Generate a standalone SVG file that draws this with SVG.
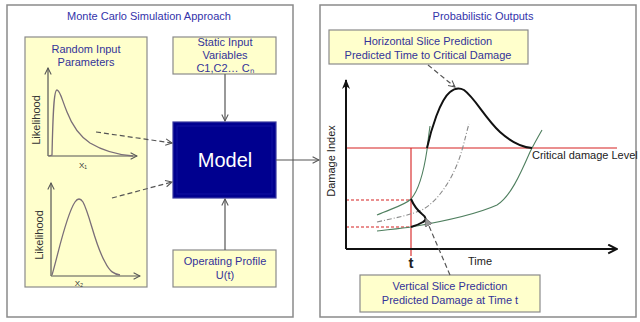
<svg xmlns="http://www.w3.org/2000/svg" width="640" height="322" viewBox="0 0 640 322">
<style>
text{font-family:"Liberation Sans",Arial,sans-serif;}
.panel{fill:#fff;stroke:#8a8a8a;stroke-width:1.5;}
.ybox{fill:#ffffcc;stroke:#8a8a8a;stroke-width:1.2;}
.bt{font-size:11px;fill:#333399;text-anchor:middle;}
.ax{fill:none;stroke:#555;stroke-width:1.2;}
.pdf{fill:none;stroke:#7a6e78;stroke-width:1.3;}
.lbl{font-size:11px;fill:#333;text-anchor:middle;}
.dash{fill:none;stroke:#555;stroke-width:1.2;stroke-dasharray:5,3;}
.conn{fill:none;stroke:#555;stroke-width:1.2;}
.grn{fill:none;stroke:#4f7f5f;stroke-width:1.1;}
.red{fill:none;stroke:#d62020;stroke-width:1.1;}
.redd{fill:none;stroke:#d62020;stroke-width:1.1;stroke-dasharray:3,2;}
.blk{fill:none;stroke:#111;stroke-width:2;}
</style>
<defs>
<marker id="open" viewBox="0 0 10 10" refX="9" refY="5" markerWidth="8" markerHeight="8" orient="auto" markerUnits="userSpaceOnUse">
<path d="M1,1 L9,5 L1,9" fill="none" stroke="#555" stroke-width="1.3"/>
</marker>
<marker id="openB" viewBox="0 0 10 10" refX="9" refY="5" markerWidth="11" markerHeight="11" orient="auto" markerUnits="userSpaceOnUse">
<path d="M1,1 L9,5 L1,9" fill="none" stroke="#111" stroke-width="1.8"/>
</marker>
<marker id="fillB" viewBox="0 0 10 10" refX="9" refY="5" markerWidth="10" markerHeight="10" orient="auto" markerUnits="userSpaceOnUse">
<path d="M0,1 L10,5 L0,9 L3,5 Z" fill="#111"/>
</marker>
<marker id="triG" viewBox="0 0 10 10" refX="9" refY="5" markerWidth="8" markerHeight="8" orient="auto" markerUnits="userSpaceOnUse">
<path d="M0,0 L10,5 L0,10 Z" fill="#999" stroke="#666" stroke-width="0.8"/>
</marker>
</defs>

<g id="left-panel">
<rect class="panel" x="7" y="5" width="286" height="312"/>
<text x="149" y="20" font-size="11" fill="#3333aa" text-anchor="middle">Monte Carlo Simulation Approach</text>
</g>

<g id="random-inputs">
<rect class="ybox" x="25" y="37" width="122" height="250"/>
<text class="bt" x="86" y="53">Random Input</text>
<text class="bt" x="86" y="66">Parameters</text>
<line class="ax" x1="48" y1="156" x2="48" y2="68" marker-end="url(#open)"/>
<line class="ax" x1="48" y1="156" x2="137" y2="156" marker-end="url(#open)"/>
<path class="pdf" d="M49,156 L52,155 C53,110 54,90 57,90 C60,90 62,100 67,112 C72,125 78,135 90,143 C105,152 120,155 133,156"/>
<text class="lbl" transform="translate(40,120) rotate(-90)">Likelihood</text>
<text x="83" y="168" font-size="8" fill="#333" text-anchor="middle">X₁</text>
<line class="ax" x1="51" y1="276" x2="51" y2="183" marker-end="url(#open)"/>
<line class="ax" x1="51" y1="276" x2="140" y2="276" marker-end="url(#open)"/>
<path class="pdf" d="M52,275 C58,255 66,215 75,202 Q79,196 83,202 C90,215 95,245 105,262 C110,272 114,274 120,275"/>
<text class="lbl" transform="translate(43,235) rotate(-90)">Likelihood</text>
<text x="79" y="286" font-size="8" fill="#333" text-anchor="middle">X₂</text>
</g>

<g id="static-inputs">
<rect class="ybox" x="173" y="37" width="103" height="37"/>
<text class="bt" x="225" y="46">Static Input</text>
<text class="bt" x="225" y="59">Variables</text>
<text class="bt" x="225" y="72">C1,C2… Cₙ</text>
</g>

<g id="model">
<rect x="173" y="122" width="103" height="76" fill="#00008f" stroke="#3a3aa0" stroke-width="1.2"/>
<rect x="177" y="126" width="95" height="68" fill="none" stroke="#1010a0" stroke-width="1"/>
<text x="225" y="167" font-size="20" fill="#fff" text-anchor="middle">Model</text>
</g>

<g id="operating-profile">
<rect class="ybox" x="173" y="250" width="103" height="37"/>
<text class="bt" x="225" y="265">Operating Profile</text>
<text class="bt" x="225" y="279">U(t)</text>
</g>

<g id="right-panel">
<rect class="panel" x="320" y="5" width="316" height="312"/>
<text x="483" y="20" font-size="11" fill="#3333aa" text-anchor="middle">Probabilistic Outputs</text>
</g>

<g id="horizontal-slice-box">
<rect class="ybox" x="329" y="30" width="199" height="34"/>
<text class="bt" x="428" y="45">Horizontal Slice Prediction</text>
<text class="bt" x="428" y="59">Predicted Time to Critical Damage</text>
</g>

<g id="chart">
<line class="red" x1="346" y1="148" x2="617" y2="148"/>
<line class="red" x1="411" y1="148" x2="411" y2="256"/>
<line class="redd" x1="346" y1="200" x2="411" y2="200"/>
<line class="redd" x1="346" y1="227" x2="411" y2="227"/>
<path class="grn" d="M377,215 C393,208 405,205 411,199 C419,190 424,170 427,150 C428,140 429,133 430,126"/>
<path fill="none" stroke="#8a8a8a" stroke-width="1.1" stroke-dasharray="5,2,1,2" d="M377,222 C395,218 410,215 422,210 C440,200 455,175 462,150 C465,140 467,130 469,124"/>
<path class="grn" d="M377,231 C395,229 405,228 411,227 C440,222 475,215 497,205 C510,197 520,175 530,152 C534,144 538,137 542,130"/>
<path class="blk" d="M427,148 C431,130 440,100 450,92 Q457,86 464,90 C475,98 485,118 500,132 C510,141 520,147 532,148"/>
<path class="blk" d="M411,199 C414,206 417,210 422,214 C426,217 427,220 423,222 C418,225 414,226 411,227"/>
<line x1="346" y1="249" x2="346" y2="80" stroke="#111" stroke-width="2" marker-end="url(#fillB)"/>
<line x1="346" y1="249" x2="617" y2="249" stroke="#111" stroke-width="2" marker-end="url(#openB)"/>
<text transform="translate(335,161) rotate(-90)" font-size="11" fill="#222" text-anchor="middle">Damage Index</text>
<text x="532" y="159" font-size="11" fill="#222">Critical damage Level</text>
<text x="411" y="268" font-size="15" font-weight="bold" fill="#222" text-anchor="middle">t</text>
<text x="480" y="265" font-size="11" fill="#222" text-anchor="middle">Time</text>
</g>

<g id="vertical-slice-box">
<rect class="ybox" x="360" y="275" width="180" height="37"/>
<text class="bt" x="450" y="290">Vertical Slice Prediction</text>
<text class="bt" x="450" y="304">Predicted Damage at Time t</text>
</g>

<g id="connectors">
<line class="dash" x1="96" y1="132" x2="172" y2="143" marker-end="url(#open)"/>
<line class="dash" x1="112" y1="198" x2="172" y2="182" marker-end="url(#open)"/>
<line class="conn" x1="225" y1="74" x2="225" y2="121" marker-end="url(#open)"/>
<line class="conn" x1="225" y1="250" x2="225" y2="199" marker-end="url(#open)"/>
<line class="conn" x1="276" y1="160" x2="319" y2="160" marker-end="url(#open)"/>
<line class="dash" x1="428" y1="65" x2="455" y2="87" marker-end="url(#open)"/>
<line class="dash" x1="450" y1="275" x2="426" y2="219" marker-end="url(#triG)"/>
</g>
</svg>
